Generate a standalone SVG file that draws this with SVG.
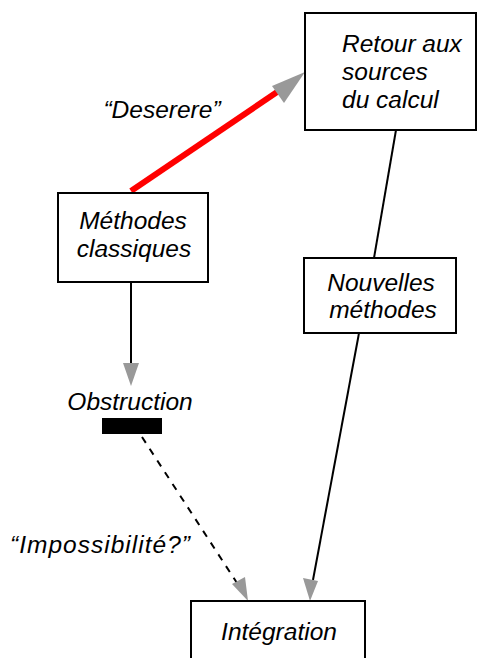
<svg xmlns="http://www.w3.org/2000/svg" width="478" height="658" viewBox="0 0 478 658">
<style>
.box{fill:#fff;stroke:#000;stroke-width:2}
.t{font-family:"Liberation Sans",Arial,sans-serif;font-style:italic;font-size:24.5px;fill:#000}
.c{text-anchor:middle}
.ln{stroke:#000;stroke-width:2;fill:none}
</style>
<g id="connectors">
<line x1="131" y1="191" x2="283" y2="88" stroke="#f00" stroke-width="6"/>
<path d="M305,72 L272,86 L284,103 Z" fill="#999"/>
<line class="ln" x1="396" y1="130" x2="374" y2="258"/>
<line class="ln" x1="359" y1="333" x2="313" y2="580"/>
<path d="M310,601 L303,578 L318,581 Z" fill="#999"/>
<line class="ln" x1="131" y1="282" x2="131" y2="364"/>
<path d="M131,386 L123,363 L139,363 Z" fill="#999"/>
<line class="ln" x1="142" y1="437" x2="237" y2="583" stroke-dasharray="7,7"/>
<path d="M248,601 L232,584 L245,577 Z" fill="#999"/>
</g>
<g id="retour">
<rect class="box" x="305" y="13" width="171" height="117"/>
<text class="t" x="342" y="52">Retour aux</text>
<text class="t" x="342" y="80">sources</text>
<text class="t" x="342" y="108">du calcul</text>
</g>
<g id="methodes">
<rect class="box" x="58" y="193" width="150" height="89"/>
<text class="t c" x="133" y="229">Méthodes</text>
<text class="t c" x="134" y="257">classiques</text>
</g>
<g id="nouvelles">
<rect class="box" x="304" y="258" width="152" height="75"/>
<text class="t c" x="381" y="291">Nouvelles</text>
<text class="t c" x="383" y="318">méthodes</text>
</g>
<g id="obstruction">
<text class="t c" x="130" y="410">Obstruction</text>
<rect x="102" y="418" width="60" height="16" fill="#000"/>
</g>
<g id="integration">
<rect class="box" x="191" y="601" width="174" height="70"/>
<text class="t c" x="279" y="640">Intégration</text>
</g>
<g id="labels">
<text class="t c" x="162" y="118">“Deserere”</text>
<text class="t c" x="100" y="553" textLength="180">“Impossibilité?”</text>
</g>
</svg>
